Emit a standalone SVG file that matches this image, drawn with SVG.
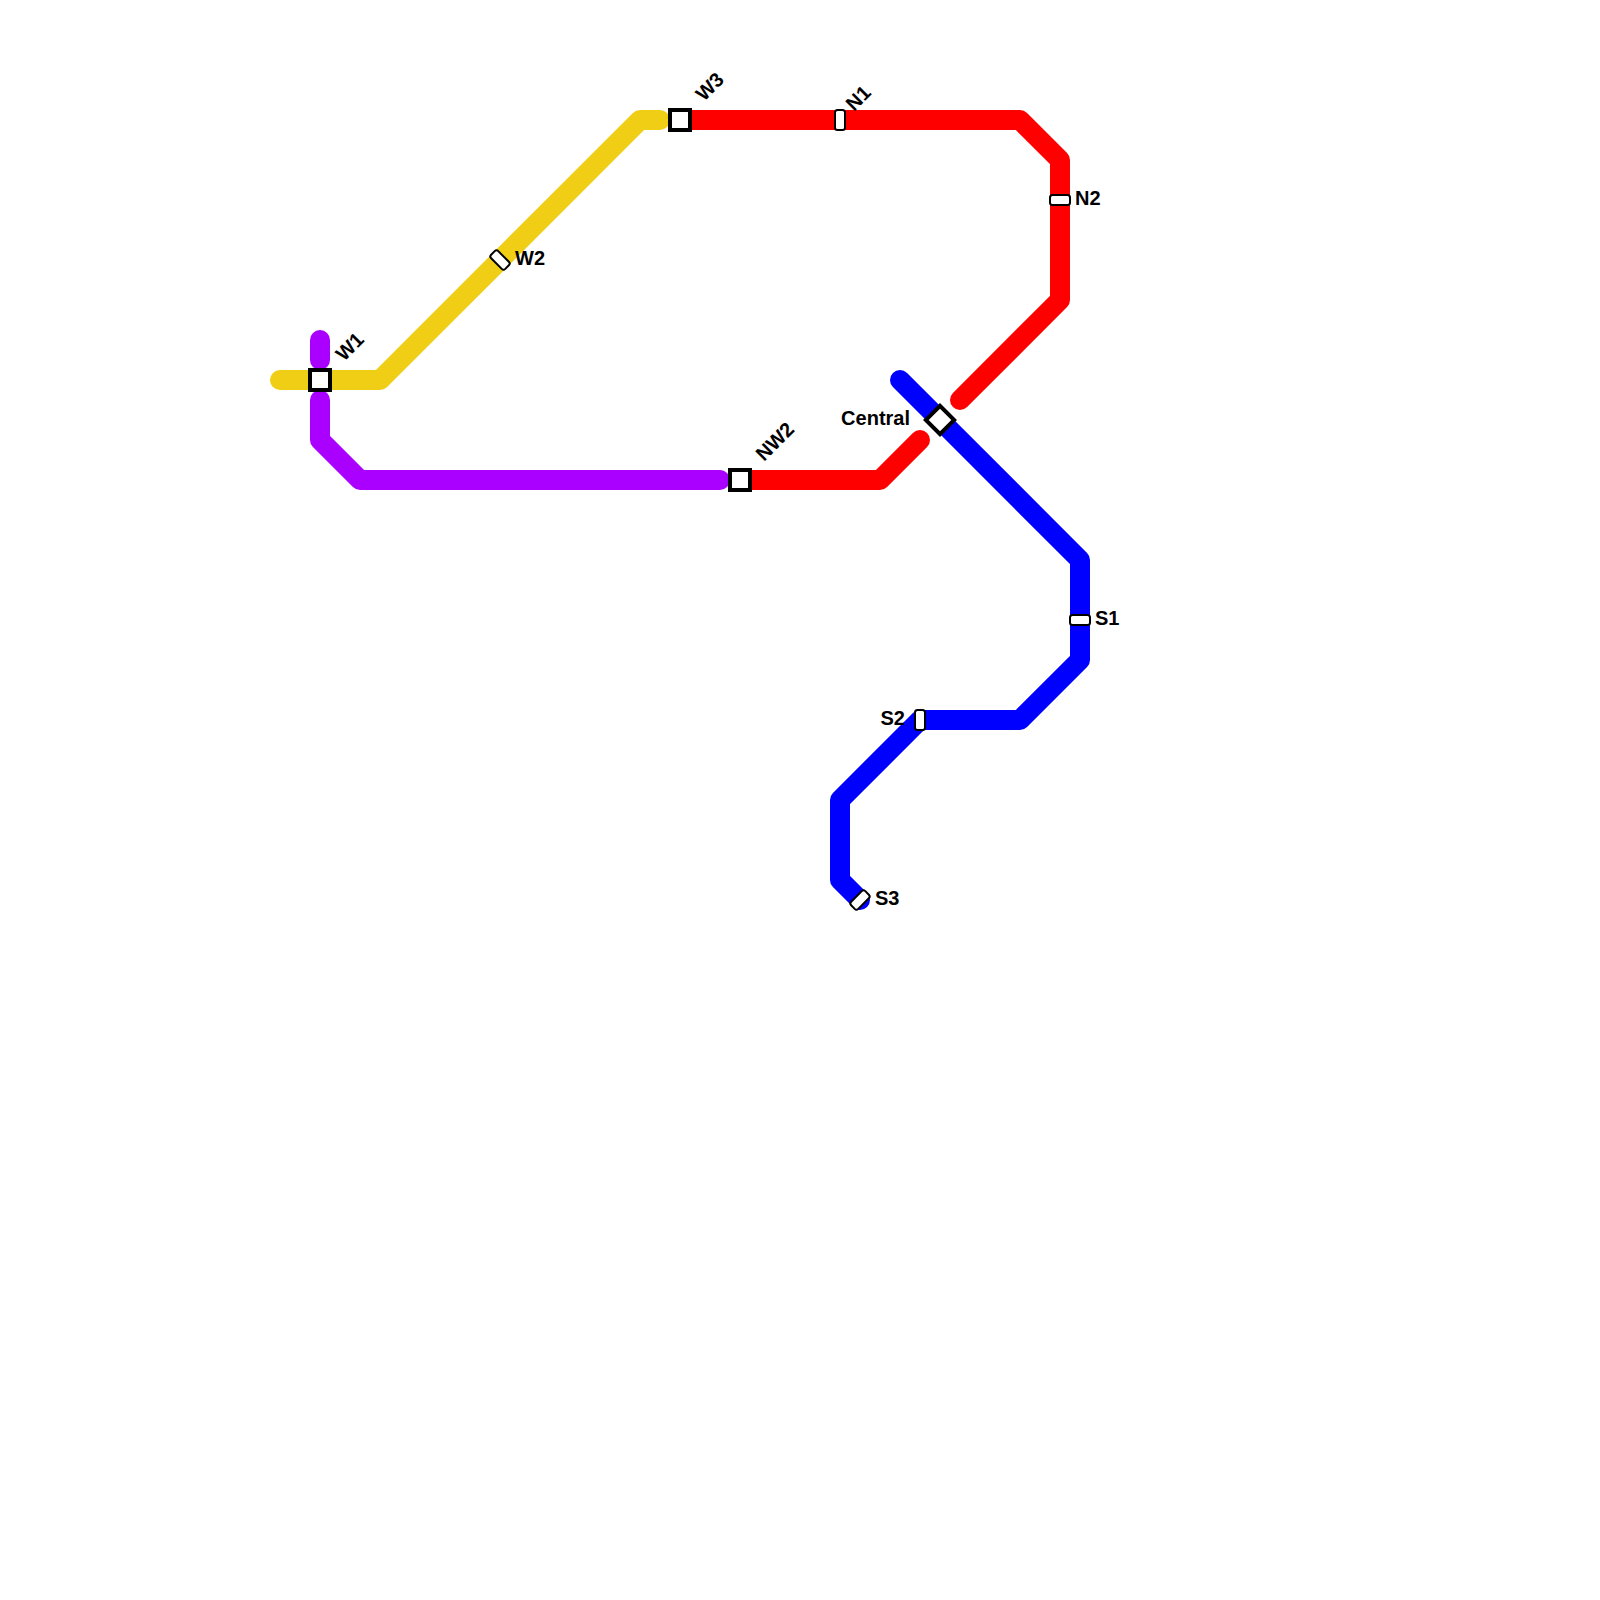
<svg xmlns="http://www.w3.org/2000/svg" width="1600" height="1600" viewBox="0 0 1600 1600">
<style>
.l{fill:none;stroke-width:20;stroke-linecap:round;stroke-linejoin:round}
.big{fill:#fff;stroke:#000;stroke-width:4}
.tick{fill:#fff;stroke:#000;stroke-width:2}
text{font-family:"Liberation Sans",Arial,sans-serif;font-size:20px;font-weight:bold;fill:#000}
</style>
<rect width="1600" height="1600" fill="#fff"/>
<g id="connectors">
<path class="l" stroke="#f0ce15" d="M280 380H380L640 120H660"/>
<path class="l" stroke="#aa00ff" d="M320 340V360"/>
<path class="l" stroke="#aa00ff" d="M320 400V440L360 480H720"/>
<path class="l" stroke="#ff0000" d="M680 120H1020L1060 160V300L960 400"/>
<path class="l" stroke="#ff0000" d="M740 480H880L920 440"/>
<path class="l" stroke="#0000ff" d="M900 380L1080 560V660L1020 720H920L840 800V880L860 900"/>
</g>
<g id="W1"><rect class="big" x="310" y="370" width="20" height="20"/><text transform="translate(344 362) rotate(-45)">W1</text></g>
<g id="W2"><rect class="tick" x="495" y="250" width="10" height="20" rx="2.5" transform="rotate(-45 500 260)"/><text x="515" y="264.5">W2</text></g>
<g id="W3"><rect class="big" x="670" y="110" width="20" height="20"/><text transform="translate(704 102) rotate(-45)">W3</text></g>
<g id="NW2"><rect class="big" x="730" y="470" width="20" height="20"/><text transform="translate(764 462) rotate(-45)">NW2</text></g>
<g id="N1"><rect class="tick" x="835" y="110" width="10" height="20" rx="2.5"/><text transform="translate(854 112) rotate(-45)">N1</text></g>
<g id="N2"><rect class="tick" x="1050" y="195" width="20" height="10" rx="2.5"/><text x="1075" y="204.5">N2</text></g>
<g id="Central"><rect class="big" x="930" y="410" width="20" height="20" transform="rotate(45 940 420)"/><text x="910" y="424.5" text-anchor="end">Central</text></g>
<g id="S1"><rect class="tick" x="1070" y="615" width="20" height="10" rx="2.5"/><text x="1095" y="624.5">S1</text></g>
<g id="S2"><rect class="tick" x="915" y="710" width="10" height="20" rx="2.5"/><text x="905" y="724.5" text-anchor="end">S2</text></g>
<g id="S3"><rect class="tick" x="855" y="890" width="10" height="20" rx="2.5" transform="rotate(45 860 900)"/><text x="875" y="904.5">S3</text></g>
</svg>
